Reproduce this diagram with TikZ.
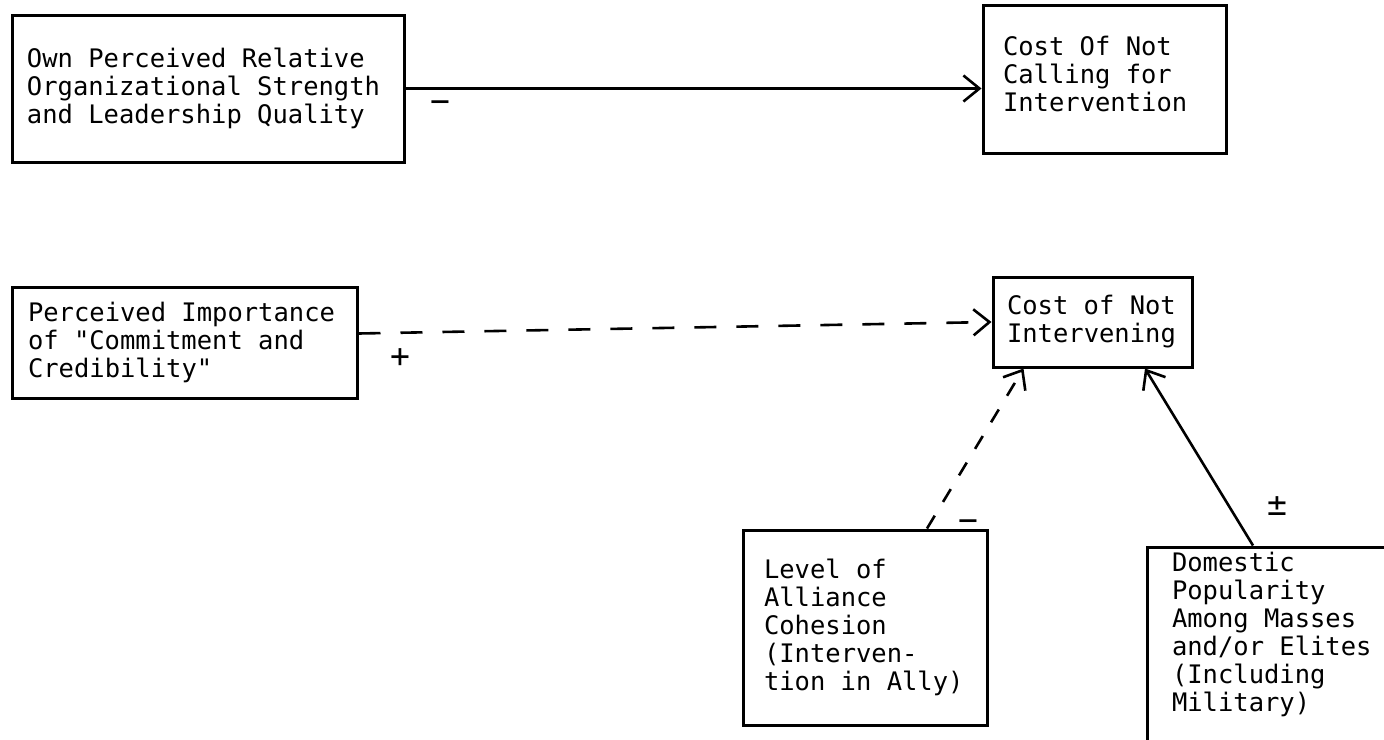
\documentclass[tikz,border=0pt]{standalone}
\usepackage{fontspec}
\setmonofont{DejaVu Sans Mono}
\usetikzlibrary{arrows.meta}
% typewriter text with full-cell word spaces
\newcommand\typerfont{\ttfamily\fontsize{25.5}{28}\selectfont}
\newcommand\typerspace{\spaceskip=15.35pt\relax}
\tikzset{
  box/.style={draw, line width=3pt, inner ysep=0pt, align=left,
    font=\typerfont, execute at begin node=\typerspace},
  conn/.style={line width=2.6pt, -{Straight Barb[length=16pt,width=26pt,line width=2.6pt]}},
  longdash/.style={dash pattern=on 22pt off 20pt},
  shortdash/.style={dash pattern=on 15pt off 16pt},
  sign/.style={inner sep=0pt, font=\ttfamily\fontsize{33}{34}\selectfont}
}
\begin{document}
\begin{tikzpicture}[x=1pt,y=-1pt]
  % page area
  \clip (0,0) rectangle (1384,739);
  \fill[white] (0,0) rectangle (1384,739);

  % boxes
  \node[box, minimum width=392pt, minimum height=147pt, inner xsep=15pt, text width=362pt]
    (own) at (208,88.5) {Own Perceived Relative\\Organizational Strength\\and Leadership Quality};
  \node[box, minimum width=243pt, minimum height=148pt, inner xsep=20pt, text width=203pt]
    (call) at (1104.5,79) {Cost Of Not\\Calling for\\Intervention\\[-18pt]\mbox{}};
  \node[box, minimum width=345pt, minimum height=111pt, inner xsep=16pt, text width=313pt]
    (commit) at (184.5,342.5) {Perceived Importance\\of "Commitment and\\Credibility"};
  \node[box, minimum width=199pt, minimum height=90pt, inner xsep=14pt, text width=171pt]
    (notint) at (1092.5,322) {Cost of Not\\Intervening};
  \node[box, minimum width=244pt, minimum height=195pt, inner xsep=21pt, text width=202pt]
    (ally) at (865,627.5) {Level of\\Alliance\\Cohesion\\(Interven-\\tion in Ally)};
  \node[box, minimum width=273pt, minimum height=198pt, inner xsep=25pt, text width=223pt]
    (pop) at (1283.5,646) {Domestic\\Popularity\\Among Masses\\and/or Elites\\(Including\\Military)\\\mbox{}};

  % connectors
  \draw[conn] (own.east) -- (own.east -| call.west);
  \draw[conn, longdash] ([yshift=9pt]commit.east) -- (notint.west);
  \draw[conn, shortdash] ([xshift=62pt]ally.north) -- ([xshift=-69pt]notint.south);
  \draw[conn] ([xshift=-30.5pt]pop.north) -- ([xshift=52.5pt]notint.south);

  % signs
  \node[sign] (s1) at (440,107) {−};
  \node[sign] (s2) at (400,358) {+};
  \node[sign] (s3) at (968,526) {−};
  \node[sign] (s4) at (1277,506) {±};
\end{tikzpicture}
\end{document}
